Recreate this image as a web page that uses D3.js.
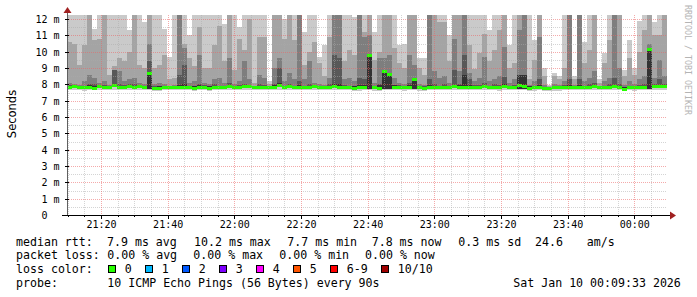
<!DOCTYPE html>
<html><head><meta charset="utf-8">
<script src="https://cdn.jsdelivr.net/npm/d3@7"></script>
<style>
html,body{margin:0;padding:0;background:#fff;}
svg{display:block;}
text{font-family:"DejaVu Sans Mono",monospace;white-space:pre;}
</style></head><body>
<svg id="c" width="697" height="297"></svg>
<script>
// ---- data: 10 pings per 90 s step, sorted values (ms) ----
const pMax = [12.3,12.3,12.3,12.3,12.3,11.4,12.3,12.3,12.3,12.3, 12.3,12.3,11.3,12.3,12.3,11.8,12.3,12.3,12.3,11.4,
  9.7,12.3,12.3,12.3,11.0,12.3,12.3,12.3,12.3,12.3, 12.3,11.7,12.3,12.3,11.5,12.3,12.3,12.3,12.3,12.3,
  8.2,12.3,12.3,12.0,12.3,12.3,12.3,11.2,12.3,12.3, 9.7,10.4,12.3,12.3,12.3,12.3,12.3,12.1,12.3,12.3,
  12.3,11.2,12.3,12.3,12.3,12.3,10.4,10.5,12.3,12.3, 9.6,9.6,12.3,12.3,12.3,12.3,11.0,12.3,12.3,12.3,
  12.3,12.3,12.3,12.3,11.3,12.3,12.3,12.3,10.4,12.3, 12.3,12.3,12.3,10.7,12.3,9.0,7.95,8.7,8.5,12.3,
  12.3,8.5,12.3,10.6,12.3,12.3,8.3,9.9,12.3,12.3, 12.3,8.9,10.7,9.0,11.9,12.3,12.3,11.8,12.3,12.3];
const p9 = [10.6,10.5,9.2,10.4,12.3,10.7,10.8,12.3,8.6,9.1, 9.6,9.4,10.0,12.3,9.2,9.0,12.3,9.0,9.2,9.8,
  8.3,8.4,12.3,10.5,9.6,9.1,11.5,9.0,9.0,10.4, 11.6,9.4,12.3,8.9,10.8,10.1,12.0,8.1,10.9,10.9,
  8.0,12.3,12.3,10.8,12.3,10.7,12.3,9.2,10.0,10.6, 9.3,8.5,10.9,12.3,12.3,9.4,10.1,9.8,12.3,11.2,
  12.3,9.5,10.0,12.3,12.3,10.2,9.3,9.0,12.3,12.3, 9.0,8.6,12.3,12.3,11.8,11.8,9.4,12.3,12.3,12.3,
  10.4,8.95,9.9,11.1,9.4,10.1,11.3,12.3,9.0,9.3, 12.3,12.3,8.3,9.5,12.3,8.5,7.9,8.5,8.3,9.0,
  12.3,8.3,12.3,9.3,10.1,12.3,8.1,9.3,10.7,12.3, 12.3,8.5,9.6,8.6,10.0,11.3,12.3,11.0,11.0,12.3];
const p8 = [8.1,8.0,7.95,8.2,8.6,8.4,8.1,8.2,7.95,8.9, 8.8,8.2,8.3,8.4,8.1,8.0,10.5,8.0,8.1,8.0,
  7.9,7.95,12.3,10.2,8.1,8.2,9.8,8.1,8.0,8.3, 8.4,8.1,9.6,8.0,8.2,9.4,8.3,7.9,8.6,8.4,
  7.9,9.0,9.6,8.2,8.7,8.3,12.3,8.3,9.4,8.1, 8.0,7.95,8.4,12.3,12.3,8.3,8.4,8.2,12.3,10.9,
  11.0,8.1,9.6,9.6,9.8,8.4,8.1,8.0,9.8,9.2, 8.0,7.95,12.3,8.8,8.4,8.5,8.1,10.8,8.8,12.3,
  8.7,8.2,8.4,9.7,8.2,8.3,8.5,10.3,8.1,8.3, 11.3,12.3,7.95,8.2,10.9,7.95,7.82,8.0,7.95,8.2,
  12.3,7.95,12.3,8.2,8.4,8.8,7.92,8.2,8.4,12.3, 9.0,7.95,8.2,8.0,8.3,8.5,10.5,8.4,9.5,8.5];
const p7 = [7.95,7.95,7.9,7.92,8.0,8.0,7.95,7.95,7.9,8.9, 8.0,7.95,8.0,8.0,7.95,7.9,9.4,7.88,7.92,7.92,
  7.88,7.9,8.6,9.2,7.92,7.9,8.0,7.95,7.88,8.0, 7.92,7.92,8.1,7.9,7.95,8.0,7.98,7.86,8.0,7.98,
  7.87,8.0,9.0,7.92,8.0,7.9,8.2,7.92,8.0,7.95, 7.9,7.9,8.0,9.8,9.6,7.98,7.92,7.9,8.4,8.3,
  9.75,7.92,8.0,8.8,8.7,7.98,7.95,7.9,8.1,8.3, 7.9,7.88,8.3,8.0,7.92,8.0,7.9,8.9,8.0,9.8,
  8.3,7.95,7.95,8.1,7.92,8.0,7.95,8.47,7.92,7.95, 8.6,8.6,7.88,7.92,8.3,7.86,7.8,7.9,7.9,7.95,
  8.3,7.9,8.3,7.92,8.0,8.1,7.88,7.92,8.0,8.4, 8.0,7.85,7.92,7.9,7.95,8.0,10.2,8.0,8.3,8.0];
const p6 = [7.9,7.9,7.88,7.9,7.95,7.9,7.92,7.88,7.88,8.05, 7.9,7.9,7.95,7.9,7.92,7.88,8.65,7.85,7.88,7.9,
  7.85,7.88,7.95,8.0,7.9,7.88,7.95,7.9,7.88,7.9, 7.88,7.9,7.95,7.88,7.9,7.95,7.92,7.86,7.9,7.92,
  7.85,7.95,8.1,7.9,7.95,7.9,7.95,7.9,7.92,7.9, 7.88,7.88,7.92,8.0,8.0,7.9,7.9,7.88,7.95,7.95,
  9.75,7.9,7.95,8.76,8.6,7.95,7.9,7.88,7.95,8.3, 7.88,7.86,7.95,7.9,7.9,7.92,7.9,7.95,7.95,8.6,
  7.95,7.9,7.92,7.95,7.9,7.92,7.9,8.0,7.9,7.9, 8.57,8.57,7.88,7.9,7.95,7.84,7.78,7.88,7.87,7.9,
  7.95,7.88,7.95,7.9,7.92,7.95,7.87,7.9,7.92,7.95, 7.92,7.82,7.9,7.88,7.9,7.92,10.16,7.95,7.95,7.95];
const median = [7.82,7.85,7.8,7.78,7.8,7.75,7.85,7.8,7.82,7.95, 7.78,7.8,7.88,7.8,7.84,7.8,8.65,7.72,7.76,7.78,
  7.8,7.8,7.8,7.82,7.78,7.75,7.82,7.8,7.74,7.82, 7.78,7.8,7.85,7.78,7.8,7.85,7.84,7.78,7.8,7.82,
  7.8,7.83,7.9,7.8,7.85,7.78,7.82,7.8,7.8,7.84, 7.8,7.8,7.83,7.85,7.8,7.82,7.8,7.76,7.78,7.82,
  9.75,7.8,7.75,8.76,8.62,7.83,7.82,7.78,7.8,8.3, 7.78,7.76,7.8,7.82,7.8,7.82,7.78,7.85,7.8,7.8,
  7.82,7.8,7.78,7.84,7.8,7.82,7.78,7.85,7.8,7.8, 7.9,7.85,7.76,7.78,7.8,7.72,7.72,7.78,7.78,7.8,
  7.8,7.78,7.82,7.8,7.82,7.84,7.8,7.8,7.82,7.84, 7.8,7.7,7.8,7.78,7.8,7.82,10.16,7.88,7.85,7.85];
const p5 = [7.77,7.8,7.75,7.73,7.75,7.7,7.8,7.75,7.77,7.88, 7.73,7.75,7.83,7.75,7.79,7.75,7.72,7.67,7.71,7.73,
  7.75,7.75,7.75,7.77,7.73,7.7,7.77,7.75,7.69,7.77, 7.73,7.75,7.8,7.73,7.75,7.8,7.79,7.73,7.75,7.77,
  7.75,7.78,7.82,7.75,7.8,7.73,7.77,7.75,7.75,7.79, 7.75,7.75,7.78,7.8,7.75,7.77,7.75,7.71,7.73,7.77,
  7.7,7.75,7.7,7.72,7.72,7.78,7.77,7.73,7.75,7.74, 7.73,7.71,7.75,7.77,7.75,7.77,7.73,7.8,7.75,7.75,
  7.77,7.75,7.73,7.79,7.75,7.77,7.73,7.8,7.75,7.75, 7.72,7.72,7.71,7.73,7.75,7.67,7.67,7.73,7.73,7.75,
  7.75,7.73,7.77,7.75,7.77,7.79,7.75,7.75,7.77,7.79, 7.75,7.65,7.75,7.73,7.75,7.77,7.7,7.83,7.8,7.8];
const pMin = [7.65,7.68,7.66,7.62,7.64,7.63,7.66,7.65,7.67,7.66, 7.64,7.65,7.68,7.66,7.67,7.66,7.68,7.6,7.62,7.65,
  7.66,7.66,7.65,7.66,7.64,7.62,7.66,7.66,7.62,7.66, 7.64,7.65,7.66,7.63,7.64,7.66,7.65,7.64,7.64,7.66,
  7.66,7.66,7.66,7.64,7.65,7.63,7.65,7.65,7.64,7.66, 7.65,7.64,7.66,7.66,7.65,7.66,7.64,7.6,7.62,7.65,
  7.68,7.62,7.6,7.66,7.66,7.64,7.64,7.62,7.63,7.66, 7.62,7.6,7.64,7.65,7.65,7.66,7.63,7.65,7.64,7.64,
  7.65,7.64,7.63,7.65,7.64,7.66,7.62,7.64,7.64,7.65, 7.66,7.64,7.6,7.62,7.64,7.58,7.6,7.62,7.62,7.64,
  7.64,7.63,7.64,7.64,7.65,7.66,7.64,7.64,7.65,7.66, 7.64,7.58,7.64,7.62,7.64,7.65,7.68,7.66,7.65,7.66];

const yTickValues = [0,1,2,3,4,5,6,7,8,9,10,11,12];
const yTickLabels = ["0  ","1 m","2 m","3 m","4 m","5 m","6 m","7 m","8 m","9 m","10 m","11 m","12 m"];
const lossLabels = ["0","1","2","3","4","5","6-9","10/10"];
const lossColors = ["#26ff00","#00b8ff","#0059ff","#7e00ff","#ff00ff","#ff5500","#ff0000","#a00000"];
const rttStats = ["7.9 ms avg","10.2 ms max","7.7 ms min","7.8 ms now","0.3 ms sd","24.6","am/s"];
const lossStats = ["0.00 % avg","0.00 % max","0.00 % min","0.00 % now"];
const probeText = "10 ICMP Echo Pings (56 Bytes) every 90s";
const dateText = "Sat Jan 10 00:09:33 2026";
const startTime = new Date(2026, 0, 9, 21, 9, 48);
const stepSec = 90;

// ---- layout ----
const svg = d3.select("#c");
const L = 67, R = 667, T = 15, B = 215;
const endTime = new Date(+startTime + pMax.length * stepSec * 1000);
const x = d3.scaleTime().domain([startTime, endTime]).range([L, R]);
const y = d3.scaleLinear().domain([0, 12.245]).range([B, T]);
const times = d3.range(pMax.length).map(i => new Date(+startTime + i * stepSec * 1000));
const tNext = i => new Date(+times[i] + stepSec * 1000);

svg.append("rect").attr("width",697).attr("height",297).attr("fill","#fff");
svg.append("defs").append("clipPath").attr("id","clip")
  .append("rect").attr("x",L).attr("y",T).attr("width",R-L).attr("height",B-T);

const plot = svg.append("g").attr("clip-path","url(#clip)").attr("shape-rendering","crispEdges");
const bands = [
  {lo: pMin, hi: pMax, c: "#cacaca"},
  {lo: p5, hi: p9, c: "#a4a4a4"},
  {lo: p5, hi: p8, c: "#7e7e7e"},
  {lo: p5, hi: p7, c: "#585858"},
  {lo: p5, hi: p6, c: "#323232"}
];
bands.forEach(b => {
  plot.append("g").selectAll("rect").data(times).join("rect")
    .attr("x", (d,i) => Math.round(x(d)))
    .attr("width", (d,i) => Math.round(x(tNext(i))) - Math.round(x(d)))
    .attr("y", (d,i) => Math.round(y(b.hi[i])))
    .attr("height", (d,i) => Math.max(0, Math.round(y(b.lo[i])) - Math.round(y(b.hi[i]))))
    .attr("fill", b.c);
});

// grid
const grid = svg.append("g").attr("shape-rendering","crispEdges");
const hVals = d3.range(1, 25).map(v => v / 2);
grid.selectAll("line.h").data(hVals).join("line")
  .attr("x1", L).attr("x2", R).attr("y1", d => Math.round(y(d)) + 0.5).attr("y2", d => Math.round(y(d)) + 0.5)
  .attr("stroke", d => Number.isInteger(d) ? "rgba(235,100,100,0.55)" : "rgba(170,170,170,0.5)")
  .attr("stroke-dasharray", "1,1");
const minorT = d3.timeMinute.every(5).range(startTime, endTime);
grid.selectAll("line.v").data(minorT).join("line")
  .attr("y1", T).attr("y2", B).attr("x1", d => Math.round(x(d)) + 0.5).attr("x2", d => Math.round(x(d)) + 0.5)
  .attr("stroke", d => d.getMinutes() % 20 === 0 ? "rgba(235,100,100,0.55)" : "rgba(170,170,170,0.5)")
  .attr("stroke-dasharray", "1,1");

// median
plot.append("g").selectAll("rect").data(times).join("rect")
  .attr("x", d => Math.round(x(d)))
  .attr("width", (d,i) => Math.round(x(tNext(i))) - Math.round(x(d)))
  .attr("y", (d,i) => Math.round(y(median[i]) - 1.5))
  .attr("height", 3)
  .attr("fill", lossColors[0]);

// axes
const yAxis = d3.axisLeft(y).tickValues(yTickValues).tickFormat((d,i) => yTickLabels[i]).tickSize(0).tickPadding(7.5);
const ya = svg.append("g").attr("transform", `translate(${L},0)`).call(yAxis);
ya.select(".domain").remove();
ya.selectAll("text").attr("font-family","DejaVu Sans Mono").attr("font-size",10).attr("fill","#000").attr("dy","0.36em");

const xAxis = d3.axisBottom(x).ticks(d3.timeMinute.every(20)).tickFormat(d3.timeFormat("%H:%M")).tickSize(0).tickPadding(5.4);
const xa = svg.append("g").attr("transform", `translate(0,${B})`).call(xAxis);
xa.select(".domain").remove();
xa.selectAll("text").attr("font-family","DejaVu Sans Mono").attr("font-size",10).attr("fill","#000");

const ax = svg.append("g").attr("shape-rendering","crispEdges");
ax.append("line").attr("x1",L+0.5).attr("x2",L+0.5).attr("y1",B).attr("y2",12).attr("stroke","#606060");
ax.append("line").attr("x1",62).attr("x2",671).attr("y1",B+0.5).attr("y2",B+0.5).attr("stroke","#000");
ax.selectAll("line.t").data(minorT).join("line")
  .attr("x1", d => Math.round(x(d)) + 0.5).attr("x2", d => Math.round(x(d)) + 0.5)
  .attr("y1", B).attr("y2", d => d.getMinutes() % 20 === 0 ? B + 4 : B + 2).attr("stroke","#000");
ax.selectAll("line.yt").data(yTickValues.slice(1)).join("line")
  .attr("x1", L - 2).attr("x2", L + 2).attr("y1", d => Math.round(y(d)) + 0.5).attr("y2", d => Math.round(y(d)) + 0.5)
  .attr("stroke","#000");
svg.append("path").attr("d","M63.5,13 L71.5,13 L67.5,7 Z").attr("fill","#a02020");
svg.append("path").attr("d","M670,211.5 L670,219.5 L676,215.5 Z").attr("fill","#a02020");

// labels
svg.append("text").attr("transform","translate(15.5,114) rotate(-90)").attr("text-anchor","middle")
  .attr("font-family","DejaVu Sans").style("font-family","'DejaVu Sans'").attr("font-size",11.5).text("Seconds");
svg.append("text").attr("transform","translate(685,5) rotate(90)").attr("font-size",8.3)
  .attr("fill","#b4b4b4").text("RRDTOOL / TOBI OETIKER");

// legend
const lg = svg.append("g").attr("font-size",11.6).attr("fill","#000");
const l1x = [107, 194, 287.3, 371.7, 458.3, 535, 586.7];
const l2x = [107.3, 193.3, 279.3, 365];
lg.append("text").attr("x",16).attr("y",245.5).text("median rtt:");
rttStats.forEach((s,i) => lg.append("text").attr("x",l1x[i]).attr("y",245.5).text(s));
lg.append("text").attr("x",16).attr("y",259.2).text("packet loss:");
lossStats.forEach((s,i) => lg.append("text").attr("x",l2x[i]).attr("y",259.2).text(s));
lg.append("text").attr("x",16).attr("y",272.9).text("loss color:");
const boxX = [108.5,145.5,182.5,219.5,256.5,293.5,330.5,381.5];
lossLabels.forEach((s,i) => {
  lg.append("rect").attr("x",boxX[i]).attr("y",265.5).attr("width",7).attr("height",7)
    .attr("fill",lossColors[i]).attr("stroke","#000").attr("stroke-width",1).attr("shape-rendering","crispEdges");
  lg.append("text").attr("x",boxX[i]+16.3).attr("y",272.9).text(s);
});
lg.append("text").attr("x",16).attr("y",286.6).text("probe:");
lg.append("text").attr("x",107.3).attr("y",286.6).text(probeText);
lg.append("text").attr("x",513.3).attr("y",286.6).text(dateText);
</script>
</body></html>
